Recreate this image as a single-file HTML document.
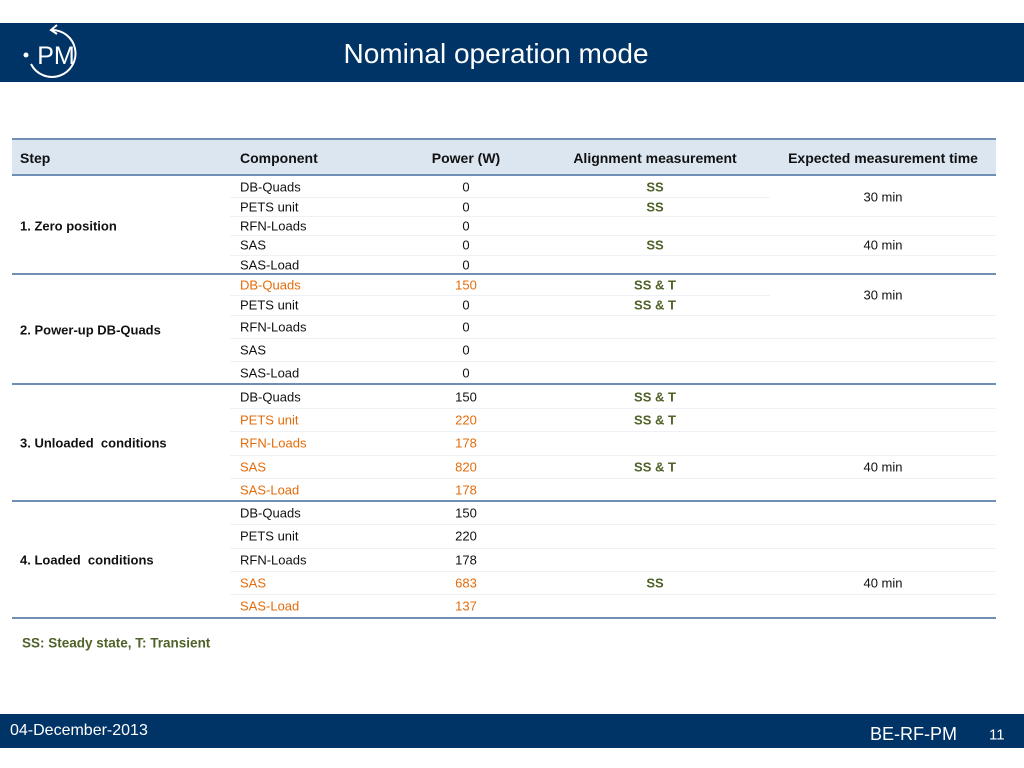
<!DOCTYPE html>
<html><head><meta charset="utf-8"><style>
body{margin:0;width:1024px;height:768px;position:relative;background:#fff;font-family:"Liberation Sans",sans-serif;overflow:hidden}
.a{position:absolute;white-space:nowrap;line-height:1;transform:translateY(-50%)}
.c{transform:translate(-50%,-50%)}
.t{font-size:13px;color:#111}
.b{font-weight:bold}
.o{color:#e46c0a}
.g{color:#4f6228;font-weight:bold}
.ln{position:absolute;height:1px;background:#eef1f5}
.bl{position:absolute;left:12px;width:984px;height:2px;background:#6f8fb5}
</style></head><body>
<div style="position:absolute;left:0;top:23px;width:1024px;height:59px;background:#003366"></div>
<svg style="position:absolute;left:0;top:0" width="110" height="90" viewBox="0 0 110 90">
<path d="M51 30 A23.5 23.5 0 1 1 31 64" fill="none" stroke="#fff" stroke-width="2"/>
<path d="M57 25 L51 30 L57 34" stroke="#fff" stroke-width="2" fill="none"/>
<circle cx="26" cy="55" r="2.5" fill="#fff"/>
<text x="56" y="64" text-anchor="middle" fill="#fff" font-family="Liberation Sans" font-size="25">PM</text>
</svg>
<div class="a c" style="left:496px;top:54px;font-size:28px;color:#fff">Nominal operation mode</div>

<div style="position:absolute;left:12px;top:138px;width:984px;height:38px;background:#dce6f1;border-top:2px solid #6f8fb5;border-bottom:2px solid #6f8fb5;box-sizing:border-box"></div>
<div class="a t b" style="left:20px;top:158px;font-size:14px">Step</div>
<div class="a t b" style="left:240px;top:158px;font-size:14px">Component</div>
<div class="a t b c" style="left:466px;top:158px;font-size:14px">Power (W)</div>
<div class="a t b c" style="left:655px;top:158px;font-size:14px">Alignment measurement</div>
<div class="a t b c" style="left:883px;top:158px;font-size:14px">Expected measurement time</div>

<div class="ln" style="left:230px;width:540px;top:197px"></div>
<div class="ln" style="left:230px;width:766px;top:216px"></div>
<div class="ln" style="left:230px;width:766px;top:235px"></div>
<div class="ln" style="left:230px;width:766px;top:255px"></div>
<div class="ln" style="left:230px;width:540px;top:295px"></div>
<div class="ln" style="left:230px;width:766px;top:315px"></div>
<div class="ln" style="left:230px;width:766px;top:338px"></div>
<div class="ln" style="left:230px;width:766px;top:361px"></div>
<div class="ln" style="left:230px;width:766px;top:408px"></div>
<div class="ln" style="left:230px;width:766px;top:431px"></div>
<div class="ln" style="left:230px;width:766px;top:455px"></div>
<div class="ln" style="left:230px;width:766px;top:478px"></div>
<div class="ln" style="left:230px;width:766px;top:524px"></div>
<div class="ln" style="left:230px;width:766px;top:548px"></div>
<div class="ln" style="left:230px;width:766px;top:571px"></div>
<div class="ln" style="left:230px;width:766px;top:594px"></div>
<div class="bl" style="top:273px"></div>
<div class="bl" style="top:383px"></div>
<div class="bl" style="top:500px"></div>
<div class="bl" style="top:617px"></div>

<div class="a t b" style="left:20px;top:226px">1. Zero position</div>
<div class="a t" style="left:240px;top:187px">DB-Quads</div><div class="a t c" style="left:466px;top:187px">0</div><div class="a t g c" style="left:655px;top:187px">SS</div>
<div class="a t" style="left:240px;top:207px">PETS unit</div><div class="a t c" style="left:466px;top:207px">0</div><div class="a t g c" style="left:655px;top:207px">SS</div>
<div class="a t" style="left:240px;top:226px">RFN-Loads</div><div class="a t c" style="left:466px;top:226px">0</div>
<div class="a t" style="left:240px;top:245px">SAS</div><div class="a t c" style="left:466px;top:245px">0</div><div class="a t g c" style="left:655px;top:245px">SS</div>
<div class="a t" style="left:240px;top:265px">SAS-Load</div><div class="a t c" style="left:466px;top:265px">0</div>
<div class="a t c" style="left:883px;top:197px">30 min</div>
<div class="a t c" style="left:883px;top:245px">40 min</div>

<div class="a t b" style="left:20px;top:330px">2. Power-up DB-Quads</div>
<div class="a t o" style="left:240px;top:285px">DB-Quads</div><div class="a t o c" style="left:466px;top:285px">150</div><div class="a t g c" style="left:655px;top:285px">SS &amp; T</div>
<div class="a t" style="left:240px;top:305px">PETS unit</div><div class="a t c" style="left:466px;top:305px">0</div><div class="a t g c" style="left:655px;top:305px">SS &amp; T</div>
<div class="a t" style="left:240px;top:327px">RFN-Loads</div><div class="a t c" style="left:466px;top:327px">0</div>
<div class="a t" style="left:240px;top:350px">SAS</div><div class="a t c" style="left:466px;top:350px">0</div>
<div class="a t" style="left:240px;top:373px">SAS-Load</div><div class="a t c" style="left:466px;top:373px">0</div>
<div class="a t c" style="left:883px;top:295px">30 min</div>

<div class="a t b" style="left:20px;top:443px">3. Unloaded&nbsp; conditions</div>
<div class="a t" style="left:240px;top:397px">DB-Quads</div><div class="a t c" style="left:466px;top:397px">150</div><div class="a t g c" style="left:655px;top:397px">SS &amp; T</div>
<div class="a t o" style="left:240px;top:420px">PETS unit</div><div class="a t o c" style="left:466px;top:420px">220</div><div class="a t g c" style="left:655px;top:420px">SS &amp; T</div>
<div class="a t o" style="left:240px;top:443px">RFN-Loads</div><div class="a t o c" style="left:466px;top:443px">178</div>
<div class="a t o" style="left:240px;top:467px">SAS</div><div class="a t o c" style="left:466px;top:467px">820</div><div class="a t g c" style="left:655px;top:467px">SS &amp; T</div>
<div class="a t o" style="left:240px;top:490px">SAS-Load</div><div class="a t o c" style="left:466px;top:490px">178</div>
<div class="a t c" style="left:883px;top:467px">40 min</div>

<div class="a t b" style="left:20px;top:560px">4. Loaded&nbsp; conditions</div>
<div class="a t" style="left:240px;top:513px">DB-Quads</div><div class="a t c" style="left:466px;top:513px">150</div>
<div class="a t" style="left:240px;top:536px">PETS unit</div><div class="a t c" style="left:466px;top:536px">220</div>
<div class="a t" style="left:240px;top:560px">RFN-Loads</div><div class="a t c" style="left:466px;top:560px">178</div>
<div class="a t o" style="left:240px;top:583px">SAS</div><div class="a t o c" style="left:466px;top:583px">683</div><div class="a t g c" style="left:655px;top:583px">SS</div>
<div class="a t o" style="left:240px;top:606px">SAS-Load</div><div class="a t o c" style="left:466px;top:606px">137</div>
<div class="a t c" style="left:883px;top:583px">40 min</div>

<div class="a t g" style="left:22px;top:643px;font-size:13.5px">SS: Steady state, T: Transient</div>

<div style="position:absolute;left:0;top:714px;width:1024px;height:34px;background:#003366"></div>
<div class="a" style="left:10px;top:731px;color:#fff;font-size:16px">04-December-2013</div>
<div class="a" style="left:870px;top:734px;color:#fff;font-size:18px">BE-RF-PM</div>
<div class="a" style="left:989px;top:735px;color:#fff;font-size:15px">11</div>
</body></html>
